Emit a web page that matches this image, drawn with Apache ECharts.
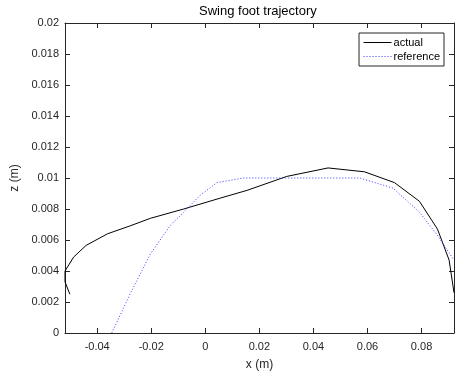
<!DOCTYPE html>
<html>
<head>
<meta charset="utf-8">
<script src="https://cdn.jsdelivr.net/npm/echarts@6/dist/echarts.min.js"></script>
<style>
  html, body { margin: 0; padding: 0; background: #fff; }
  #chart { width: 455px; height: 378px; }
</style>
</head>
<body>
<div id="chart"></div>
<script>
// values (metres)
var actualX = [-0.0501, -0.0519, -0.0519, -0.0487, -0.0441, -0.0362, -0.0280, -0.0203, -0.0080, 0.0055, 0.0154, 0.0301, 0.0454, 0.0589, 0.0700, 0.0792, 0.0859, 0.0902, 0.0920];
var actualZ = [0.0025, 0.0033, 0.0040, 0.0049, 0.00565, 0.0064, 0.0069, 0.0074, 0.0080, 0.0087, 0.0092, 0.0101, 0.01065, 0.0104, 0.0097, 0.0085, 0.0067, 0.0047, 0.0026];

var refX = [-0.0346, -0.0276, -0.0203, -0.0129, -0.0074, -0.0018, 0.0043, 0.0141, 0.0300, 0.0460, 0.0571, 0.0694, 0.0792, 0.0859, 0.0920];
var refZ = [0, 0.0026, 0.0051, 0.00695, 0.0079, 0.0089, 0.0097, 0.0100, 0.0100, 0.0100, 0.0100, 0.00935, 0.0078, 0.0063, 0.0047];

var xTicks = [-0.04, -0.02, 0, 0.02, 0.04, 0.06, 0.08];
var yTicks = [0, 0.002, 0.004, 0.006, 0.008, 0.01, 0.012, 0.014, 0.016, 0.018, 0.02];

var xMin = -0.0519, xMax = 0.092;
var yMin = 0, yMax = 0.02;

function pairs(xs, ys) {
  var out = [];
  for (var i = 0; i < xs.length; i++) out.push([xs[i], ys[i]]);
  return out;
}

var axisCol = '#262626';
var font = 'Liberation Sans, Arial, Helvetica, sans-serif';

function fmt(v) { return String(+(+v).toFixed(4)); }

var myChart = echarts.init(document.getElementById('chart'));
var option = {
  animation: false,
  backgroundColor: '#fff',
  textStyle: { fontFamily: font },
  title: {
    text: 'Swing foot trajectory',
    left: 199,
    top: 5,
    padding: 0,
    textStyle: { fontSize: 13, fontWeight: 'normal', color: '#000', fontFamily: font }
  },
  legend: {
    orient: 'vertical',
    right: 11,
    top: 33,
    padding: [4, 4, 4, 4],
    itemGap: 3,
    itemWidth: 28,
    itemHeight: 10,
    borderColor: axisCol,
    borderWidth: 1,
    backgroundColor: '#fff',
    itemStyle: { opacity: 0 },
    lineStyle: { width: 1 },
    textStyle: { fontSize: 11, color: '#000', fontFamily: font, padding: [0, 0, 0, -3] },
    data: ['actual', 'reference']
  },
  grid: { left: 65, right: 1, top: 23, bottom: 45 },
  xAxis: [
    {
      type: 'value', min: xMin, max: xMax, position: 'bottom',
      name: 'x (m)', nameLocation: 'middle', nameGap: 26,
      nameTextStyle: { fontSize: 12, color: axisCol, fontFamily: font },
      axisLine: { onZero: false, lineStyle: { color: axisCol } },
      axisTick: { inside: true, length: 5, customValues: xTicks, lineStyle: { color: axisCol } },
      axisLabel: { customValues: xTicks, fontSize: 11, color: axisCol, margin: 8, formatter: fmt },
      splitLine: { show: false }
    },
    {
      type: 'value', min: xMin, max: xMax, position: 'top',
      axisLine: { onZero: false, lineStyle: { color: axisCol } },
      axisTick: { inside: true, length: 5, customValues: xTicks, lineStyle: { color: axisCol } },
      axisLabel: { show: false },
      splitLine: { show: false }
    }
  ],
  yAxis: [
    {
      type: 'value', min: yMin, max: yMax, position: 'left',
      name: 'z (m)', nameLocation: 'middle', nameGap: 38,
      nameTextStyle: { fontSize: 12, color: axisCol, fontFamily: font },
      axisLine: { show: true, onZero: false, lineStyle: { color: axisCol } },
      axisTick: { show: true, inside: true, length: 5, customValues: yTicks, lineStyle: { color: axisCol } },
      axisLabel: { customValues: yTicks, fontSize: 11, color: axisCol, margin: 6, formatter: fmt },
      splitLine: { show: false }
    },
    {
      type: 'value', min: yMin, max: yMax, position: 'right',
      axisLine: { show: true, onZero: false, lineStyle: { color: axisCol } },
      axisTick: { show: true, inside: true, length: 5, customValues: yTicks, lineStyle: { color: axisCol } },
      axisLabel: { show: false },
      splitLine: { show: false }
    }
  ],
  series: [
    {
      name: 'actual',
      type: 'line',
      data: pairs(actualX, actualZ),
      showSymbol: false,
      symbol: 'none',
      clip: true,
      color: '#000',
      lineStyle: { color: '#000', width: 1 }
    },
    {
      name: 'reference',
      type: 'line',
      data: pairs(refX, refZ),
      showSymbol: false,
      symbol: 'none',
      clip: true,
      color: '#3a3aff',
      lineStyle: { color: '#3a3aff', width: 1, type: [1, 2] }
    }
  ]
};

myChart.setOption(option);
</script>
</body>
</html>
